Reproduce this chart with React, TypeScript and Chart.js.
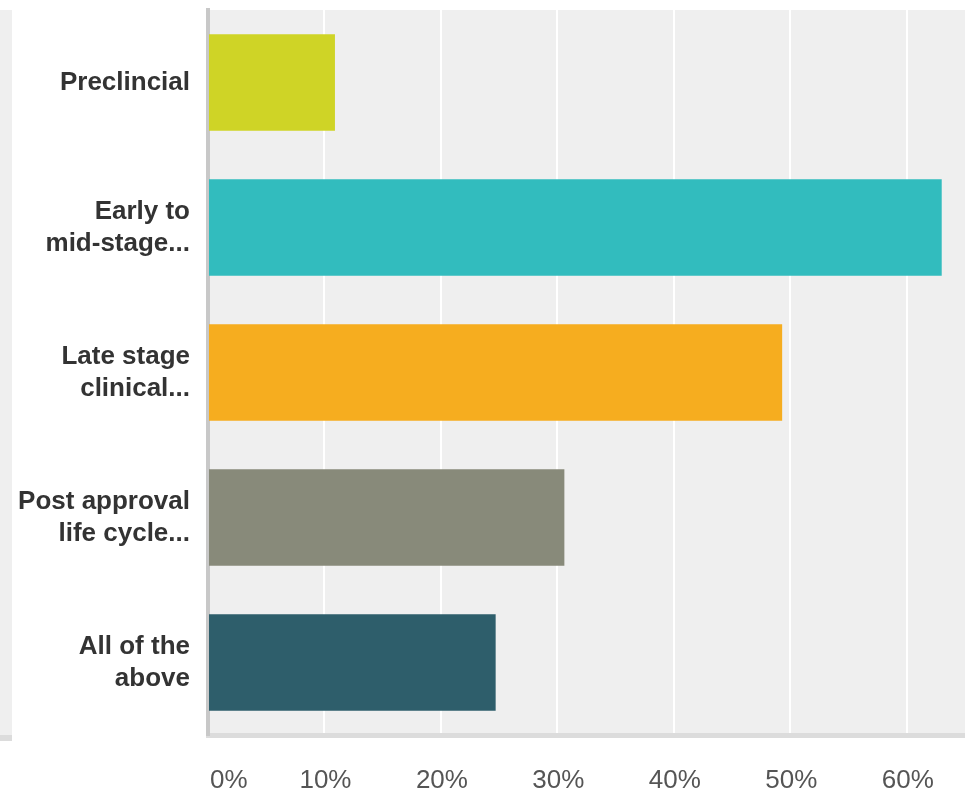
import React, { useEffect, useRef } from "react";
import { Chart, registerables } from "chart.js";

Chart.register(...registerables);

// Answer options (multi-line labels as shown on the axis)
const categories: string[][] = [
  ["Preclincial"],
  ["Early to", "mid-stage..."],
  ["Late stage", "clinical..."],
  ["Post approval", "life cycle..."],
  ["All of the", "above"],
];

// Share of respondents, percent
const responsePercents: number[] = [10.9, 63.0, 49.3, 30.6, 24.7];

const barColors: string[] = ["#cfd426", "#32bcbe", "#f6ad1f", "#888a7a", "#2e5e6b"];

// Percentage axis ticks
const tickValues: number[] = [0, 10, 20, 30, 40, 50, 60];
const tickLabels: string[] = ["0%", "10%", "20%", "30%", "40%", "50%", "60%"];

const FONT = "'Liberation Sans', Arial, Helvetica, sans-serif";

const plotBackground = {
  id: "plotBackground",
  beforeDraw(chart: any) {
    const { ctx, chartArea } = chart;
    ctx.save();
    ctx.fillStyle = "#efefef";
    ctx.fillRect(chartArea.left, chartArea.top, chartArea.right - chartArea.left, chartArea.bottom - chartArea.top);
    ctx.restore();
  },
};

// Percent labels under the axis; the first one sits flush with the axis line
const percentLabels = {
  id: "percentLabels",
  afterDraw(chart: any) {
    const { ctx } = chart;
    const xScale = chart.scales.x;
    ctx.save();
    ctx.font = `26px ${FONT}`;
    ctx.fillStyle = "#555555";
    ctx.textBaseline = "middle";
    tickValues.forEach((v, i) => {
      const px = xScale.getPixelForValue(v);
      if (i === 0) {
        ctx.textAlign = "left";
        ctx.fillText(tickLabels[i], px + 2, 781);
      } else {
        ctx.textAlign = "center";
        ctx.fillText(tickLabels[i], px + 1, 781);
      }
    });
    ctx.restore();
  },
};

export default function App() {
  const canvasRef = useRef<HTMLCanvasElement | null>(null);

  useEffect(() => {
    if (!canvasRef.current) return;
    const chart = new Chart(canvasRef.current, {
      type: "bar",
      data: {
        labels: categories,
        datasets: [
          {
            data: responsePercents,
            backgroundColor: barColors,
            borderWidth: 0,
            barPercentage: 0.667,
            categoryPercentage: 1,
          },
        ],
      },
      options: {
        indexAxis: "y",
        responsive: false,
        animation: false,
        devicePixelRatio: 1,
        layout: { padding: { top: 10, right: 0, bottom: 0, left: 0 } },
        plugins: {
          legend: { display: false },
          tooltip: { enabled: false },
        },
        scales: {
          x: {
            type: "linear",
            min: 0,
            max: 65,
            afterBuildTicks(scale: any) {
              scale.ticks = tickValues.map((v) => ({ value: v }));
            },
            afterFit(scale: any) {
              scale.height = 61;
              scale.paddingLeft = 0;
              scale.paddingRight = 0;
            },
            grid: {
              color: "#ffffff",
              lineWidth: 2,
              drawTicks: false,
            },
            border: { display: true, color: "#dcdcdc", width: 5 },
            ticks: { display: false },
          },
          y: {
            afterFit(scale: any) {
              scale.width = 208;
              scale.paddingTop = 0;
              scale.paddingBottom = 0;
            },
            grid: { display: false, drawTicks: false },
            border: { display: true, color: "#c8c8c8", width: 4 },
            ticks: {
              color: "#333333",
              padding: 18,
              font: { family: FONT, size: 26, weight: "bold", lineHeight: 1.22 },
            },
          },
        },
      },
      plugins: [plotBackground, percentLabels],
    });
    return () => chart.destroy();
  }, []);

  return (
    <div style={{ position: "absolute", left: 0, top: 0, width: 965, height: 796, background: "#ffffff", overflow: "hidden" }}>
      <div
        style={{
          position: "absolute",
          left: 0,
          top: 10,
          width: 12,
          height: 725,
          background: "#efefef",
          borderBottom: "6px solid #dcdcdc",
        }}
      />
      <canvas ref={canvasRef} width={965} height={796} style={{ position: "absolute", left: 0, top: 0 }} />
    </div>
  );
}
